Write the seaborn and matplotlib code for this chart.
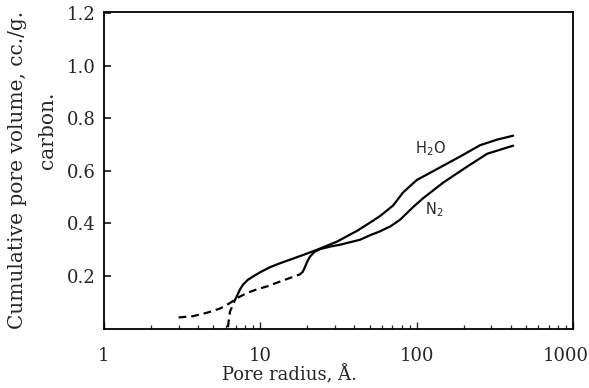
import matplotlib
matplotlib.use("Agg")
import matplotlib.pyplot as plt
import matplotlib.transforms as mtransforms
import seaborn as sns
from matplotlib.ticker import FixedLocator, LogLocator, NullFormatter, FixedFormatter

# ---- data ----
h2o_dash_r = [6.2, 6.4, 6.9, 7.1]
h2o_dash_v = [0.005, 0.065, 0.11, 0.125]
h2o_r = [7.1, 7.4, 7.75, 8.3, 8.98, 9.96, 11.5, 13.3, 15.5, 19.0, 23.1, 31.0, 41.6, 50.3, 58.3, 70.6, 81.9, 100, 135, 190, 255, 327, 414]
h2o_v = [0.125, 0.148, 0.167, 0.185, 0.198, 0.214, 0.233, 0.248, 0.262, 0.281, 0.30, 0.331, 0.372, 0.403, 0.428, 0.468, 0.518, 0.565, 0.607, 0.655, 0.698, 0.719, 0.734]
n2_dash_r = [3.0, 3.71, 4.56, 5.52, 6.4, 7.1, 8.2, 9.5, 11.0, 13.4, 17.9]
n2_dash_v = [0.042, 0.047, 0.060, 0.076, 0.097, 0.116, 0.135, 0.149, 0.160, 0.179, 0.206]
n2_r = [17.9, 18.7, 19.3, 20.0, 20.8, 22.2, 24.1, 28.0, 32.4, 43.5, 50.3, 58.3, 68.0, 78.3, 94.8, 110, 147.5, 210, 282, 414]
n2_v = [0.206, 0.216, 0.234, 0.256, 0.274, 0.292, 0.302, 0.312, 0.319, 0.338, 0.355, 0.370, 0.389, 0.414, 0.462, 0.496, 0.555, 0.616, 0.665, 0.696]

y_ticks = [0.2, 0.4, 0.6, 0.8, 1.0, 1.2]
y_ticklabels = ["0.2", "0.4", "0.6", "0.8", "1.0", "1.2"]
x_ticks = [1, 10, 100, 1000]
x_ticklabels = ["1", "10", "100", "1000"]

sns.set_style("white")
plt.rcParams["font.family"] = ["DejaVu Serif"]

fig = plt.figure(figsize=(5.89, 3.88), dpi=100)
ax = fig.add_axes([104/589, 1 - 328.5/388, (573-104)/589, (328.5-11.7)/388])

lw = 1.6
dash = (0, (3.5, 2.2))
sns.lineplot(x=h2o_dash_r, y=h2o_dash_v, ax=ax, color="black", lw=lw, sort=False, estimator=None,
             linestyle=dash)
sns.lineplot(x=h2o_r, y=h2o_v, ax=ax, color="black", lw=lw, sort=False, estimator=None)
sns.lineplot(x=n2_dash_r, y=n2_dash_v, ax=ax, color="black", lw=lw, sort=False, estimator=None,
             linestyle=dash)
sns.lineplot(x=n2_r, y=n2_v, ax=ax, color="black", lw=lw, sort=False, estimator=None)

ax.set_xscale("log")
ax.set_xlim(1, 1000)
ax.set_ylim(0, 1.206)

for s in ax.spines.values():
    s.set_color("black")
    s.set_linewidth(1.3)

ax.yaxis.set_major_locator(FixedLocator(y_ticks))
ax.yaxis.set_major_formatter(FixedFormatter(y_ticklabels))
ax.xaxis.set_major_locator(FixedLocator(x_ticks))
ax.xaxis.set_major_formatter(FixedFormatter(x_ticklabels))
ax.xaxis.set_minor_locator(LogLocator(base=10, subs=range(2, 10)))
ax.xaxis.set_minor_formatter(NullFormatter())
ax.tick_params(axis="y", which="major", direction="in", length=5, width=1.3, pad=6,
               labelsize=13, left=True, right=False)
ax.tick_params(axis="x", which="major", direction="in", length=5, width=1.0, pad=13,
               labelsize=13, bottom=True, top=False)
ax.tick_params(axis="x", which="minor", direction="in", length=3, width=0.9, bottom=True, top=False)

# nudge the last x label left so it stays inside the figure, as in the reference
last = ax.get_xticklabels()[-1]
last.set_transform(last.get_transform() + mtransforms.ScaledTranslation(-7/100, 0, fig.dpi_scale_trans))

ax.set_xlabel("")
ax.set_ylabel("")
fig.text(290/589, 1 - 375/388, "Pore radius, Å.", ha="center", va="center", fontsize=13)
fig.text(18/589, 1 - 170/388, "Cumulative pore volume, cc./g.", rotation=90,
         ha="center", va="center", fontsize=14.5)
fig.text(48/589, 1 - 130/388, "carbon.", rotation=90, ha="center", va="center", fontsize=14.5)

ax.text(122, 0.684, "H$_2$O", ha="center", va="center", fontsize=10.5, family="DejaVu Sans")
ax.text(129, 0.452, "N$_2$", ha="center", va="center", fontsize=10.5, family="DejaVu Sans")

fig.savefig("out.png", dpi=100)
